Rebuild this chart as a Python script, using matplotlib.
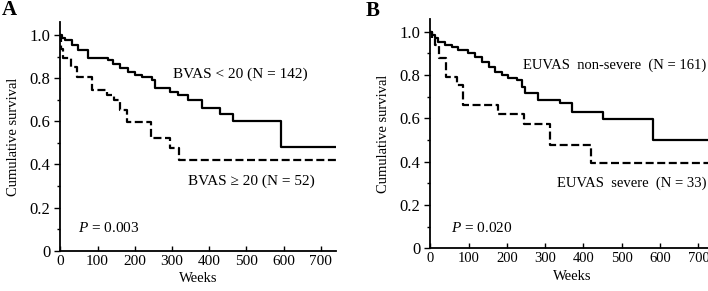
import matplotlib
matplotlib.use("Agg")
import matplotlib.pyplot as plt
import numpy as np

plt.rcParams['font.family'] = ['Liberation Serif', 'DejaVu Serif']
plt.rcParams['mathtext.fontset'] = 'custom'
plt.rcParams['mathtext.rm'] = 'Liberation Serif'
plt.rcParams['mathtext.it'] = 'Liberation Serif:italic'

# Panel A data (weeks, survival) step functions
a_low_t = [0, 4, 13, 31, 48, 75, 120, 129, 142, 160, 183, 201, 219, 245, 254, 295, 317, 344, 380, 429, 463, 594, 740]
a_low_s = [1.0, 0.985, 0.977, 0.954, 0.93, 0.892, 0.892, 0.884, 0.864, 0.848, 0.83, 0.815, 0.807, 0.79, 0.753, 0.738, 0.722, 0.70, 0.663, 0.632, 0.601, 0.482, 0.482]
a_high_t = [0, 3, 8, 28, 45, 84, 125, 145, 160, 180, 243, 295, 318, 740]
a_high_s = [1.0, 0.935, 0.892, 0.85, 0.807, 0.745, 0.722, 0.699, 0.652, 0.598, 0.521, 0.474, 0.42, 0.42]

# Panel B data
b_non_t = [0, 4, 12, 21, 38, 56, 73, 99, 117, 134, 152, 169, 186, 204, 226, 239, 247, 282, 339, 369, 450, 582, 727]
b_non_s = [1.0, 0.985, 0.97, 0.954, 0.938, 0.931, 0.915, 0.90, 0.885, 0.862, 0.838, 0.815, 0.80, 0.785, 0.777, 0.746, 0.715, 0.685, 0.669, 0.631, 0.595, 0.50, 0.50]
b_sev_t = [0, 5, 12, 22, 40, 70, 85, 178, 245, 313, 420, 727]
b_sev_s = [1.0, 0.97, 0.94, 0.88, 0.79, 0.755, 0.66, 0.62, 0.575, 0.475, 0.392, 0.392]

y_ticks = [0, 0.2, 0.4, 0.6, 0.8, 1.0]
y_ticklabels = ['0', '0.2', '0.4', '0.6', '0.8', '1.0']
x_ticks = [0, 100, 200, 300, 400, 500, 600, 700]

fig = plt.figure(figsize=(7.08, 2.91), dpi=100)
axA = fig.add_axes([60.3/708, 40.3/291, 275.5/708, 228.6/291])
axB = fig.add_axes([430.3/708, 42.7/291, 283.4/708, 229.6/291])

def style(ax, xmax):
    ax.set_xlim(0, xmax)
    ax.set_ylim(0, 1.06)
    for s in ['top', 'right']:
        ax.spines[s].set_visible(False)
    for s in ['left', 'bottom']:
        ax.spines[s].set_linewidth(1.3)
    ax.set_yticks(y_ticks)
    ax.set_yticklabels(y_ticklabels)
    ax.set_yticks(np.arange(0.1, 1.0, 0.2), minor=True)
    ax.set_xticks(x_ticks)
    ax.tick_params(axis='y', which='major', direction='out', length=4, width=1.0, labelsize=12, pad=3)
    ax.tick_params(axis='y', which='minor', direction='out', length=2.5, width=1.0)
    ax.tick_params(axis='x', which='major', direction='in', length=3.5, width=1.0, labelsize=11, pad=3)
    ax.set_xlabel('Weeks', fontsize=10.5, labelpad=3)
    ax.set_ylabel('Cumulative survival', fontsize=10.5, labelpad=7)

lw = 1.6
dash = (3.6, 1.6)

axA.step(a_low_t, a_low_s, where='post', color='black', lw=lw)
axA.step(a_high_t, a_high_s, where='post', color='black', lw=lw, linestyle=(0, dash))
style(axA, 740)
axA.text(303, 0.82, 'BVAS < 20 (N = 142)', fontsize=11, va='center', ha='left')
axA.text(343, 0.323, 'BVAS \u2265 20 (N = 52)', fontsize=11, va='center', ha='left')
axA.text(48, 0.105, '$\\it{P}$ = 0.003', fontsize=11, va='center', ha='left')

axB.step(b_non_t, b_non_s, where='post', color='black', lw=lw)
axB.step(b_sev_t, b_sev_s, where='post', color='black', lw=lw, linestyle=(0, dash))
style(axB, 740)
axB.tick_params(axis='x', labelsize=10.5)
axB.text(721, 0.846, 'EUVAS  non-severe  (N = 161)', fontsize=10.5, va='center', ha='right')
axB.text(721, 0.301, 'EUVAS  severe  (N = 33)', fontsize=10.5, va='center', ha='right')
axB.text(53, 0.096, '$\\it{P}$ = 0.020', fontsize=11, va='center', ha='left')

fig.text(2/708, 1 - 10/291, 'A', fontsize=15, fontweight='bold', va='center', ha='left')
fig.text(366/708, 1 - 11/291, 'B', fontsize=15, fontweight='bold', va='center', ha='left')

fig.savefig('out.png', dpi=100)
